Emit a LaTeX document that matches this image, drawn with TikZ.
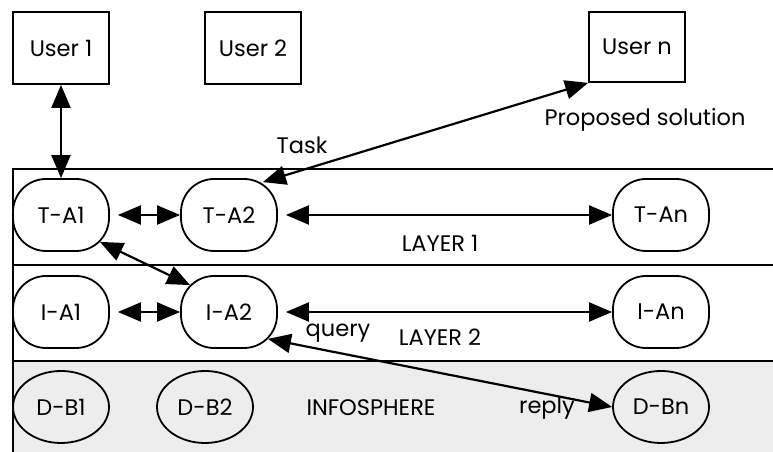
\documentclass[tikz,border=0pt]{standalone}
\usepackage{fontspec}
\setmainfont{Poppins}
\usetikzlibrary{arrows.meta, shapes.geometric}

\tikzset{
  userbox/.style={draw, line width=1.8pt, minimum width=96pt, minimum height=72pt},
  agent/.style={draw, line width=1.8pt, rounded corners=33pt, minimum width=96pt, minimum height=72pt},
  dbnode/.style={draw, ellipse, line width=1.8pt, minimum width=96pt, minimum height=72pt},
  link/.style={line width=2.2pt, {Triangle[length=23pt,width=19pt]}-{Triangle[length=23pt,width=19pt]}},
  gap/.style={shorten <=8pt}
}

\begin{document}
\begin{tikzpicture}[x=1pt, y=1pt, font=\fontsize{22.5}{26}\selectfont]
            \useasboundingbox (0,0) rectangle (773,452);
            % layers
            \fill[black!7] (13,0) rectangle (773,91);
            \draw[line width=1.8pt] (773,283) -- (13,283) -- (13,0);
            \draw[line width=2pt] (13,187) -- (773,187);
            \draw[line width=2pt] (13,91) -- (773,91);

            \node[userbox] (user1) at (61,404) {User 1};
            \node[userbox] (user2) at (253,404) {User 2};
            \node[userbox, minimum height=70pt] (usern) at (637,405) {User n};

            \node[agent] (ta1) at (61,237) {T-A1};
            \node[agent] (ta2) at (229,237) {T-A2};
            \node[agent] (tan) at (661,237) {T-An};
            \node[agent] (ia1) at (61,140) {I-A1};
            \node[agent] (ia2) at (229,140) {I-A2};
            \node[agent] (ian) at (661,140) {I-An};
            \node[dbnode] (db1) at (61,45) {D-B1};
            \node[dbnode] (db2) at (205,45) {D-B2};
            \node[dbnode] (dbn) at (661,45) {D-Bn};

            \node (task) at (302,307) {Task};
            \node (solution) at (645,332) {Proposed solution};
            \node (layer1) at (440,209) {LAYER 1};
            \node (layer2) at (440,115) {LAYER 2};
            \node (query) at (338,119) {query};
            \node (infosphere) at (371,44) {INFOSPHERE};
            \node (reply) at (547,44) {reply};

            \draw[link] (ta1.north) -- (ta1.north |- user1.south);
            \draw[link] ([shift={(-15pt,-4pt)}]ta2.north east) -- (usern.south west);
            \draw[link, gap] (ta1.east) -- (ta2.west);
            \draw[link, gap] (ta2.east) -- (tan.west);
            \draw[link] ([shift={(-10pt,10pt)}]ta1.south east) -- ([shift={(10pt,-10pt)}]ia2.north west);
            \draw[link, gap] (ia1.east) -- (ia2.west);
            \draw[link, gap] (ia2.east) -- (ian.west);
            \draw[link] ([shift={(-10pt,10pt)}]ia2.south east) -- (dbn.west);
        \end{tikzpicture}
\end{document}
